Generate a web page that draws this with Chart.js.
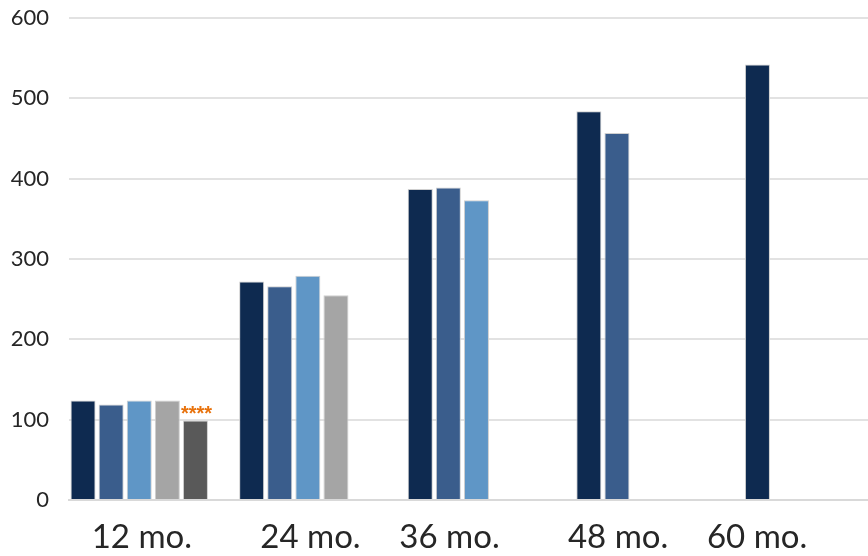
<!DOCTYPE html>
<html>
<head>
<meta charset="utf-8">
<script src="https://cdn.jsdelivr.net/npm/chart.js@4/dist/chart.umd.min.js"></script>
<style>
  html, body { margin: 0; padding: 0; overflow: hidden; background: #ffffff; }
  canvas { display: block; }
</style>
</head>
<body>
<canvas id="chart" width="912" height="556"></canvas>
<script>
// Follow-up time points
const categories = ['12 mo.', '24 mo.', '36 mo.', '48 mo.', '60 mo.'];

// One array per cohort; null where the cohort has no measurement yet
const cohort1 = [124, 272, 387, 484, 542];
const cohort2 = [119, 266, 389, 457, null];
const cohort3 = [124, 279, 373, null, null];
const cohort4 = [124, 255, null, null, null];
const cohort5 = [99, null, null, null, null];
const cohort6 = [null, null, null, null, null];

// Significance flags shown above the fifth cohort
const cohort5Flags = ['****', '', '', '', ''];

// Value axis ticks
const yTicks = [0, 100, 200, 300, 400, 500, 600];

const colors = ['#0e2a50', '#3a5d8c', '#5f96c6', '#a5a5a5', '#595959', '#8fb4dc'];
const series = [cohort1, cohort2, cohort3, cohort4, cohort5, cohort6];

// Spacing used to nudge the category captions
const padLeft = ['       ', '       ', '', '', ''];
const padRight = ['', '', '', '', '       '];

const flagPlugin = {
  id: 'flagPlugin',
  afterDatasetsDraw(chart) {
    const meta = chart.getDatasetMeta(4);
    const ctx = chart.ctx;
    meta.data.forEach((bar, i) => {
      const text = cohort5Flags[i];
      if (!text) return;
      ctx.save();
      ctx.fillStyle = '#e8720c';
      ctx.font = 'bold 20px "Liberation Sans"';
      ctx.textAlign = 'center';
      ctx.textBaseline = 'alphabetic';
      ctx.fillText(text, bar.x + 1, bar.y);
      ctx.restore();
    });
  }
};

new Chart(document.getElementById('chart'), {
  type: 'bar',
  data: {
    labels: categories,
    datasets: series.map((data, i) => ({
      label: 'Cohort ' + (i + 1),
      data: data,
      backgroundColor: colors[i],
      borderColor: '#cfcfcf',
      borderWidth: 1
    }))
  },
  options: {
    responsive: false,
    animation: false,
    devicePixelRatio: 1,
    layout: { padding: { top: 18, right: 0, left: 0, bottom: 0 } },
    datasets: { bar: { categoryPercentage: 1, barPercentage: 0.89 } },
    plugins: {
      legend: { display: false },
      tooltip: { enabled: false }
    },
    scales: {
      x: {
        grid: { display: false, drawTicks: false },
        border: { display: true, color: '#d9d9d9', width: 2 },
        ticks: {
          padding: 18,
          labelOffset: -41,
          maxRotation: 0,
          minRotation: 0,
          autoSkip: false,
          color: '#262626',
          font: { family: 'Lato', size: 33 },
          callback: (v, i) => padLeft[i] + categories[i] + padRight[i]
        },
        afterFit(scale) {
          scale.height = 56;
          scale.paddingLeft = 0;
          scale.paddingRight = 0;
        }
      },
      y: {
        min: 0,
        max: 600,
        afterBuildTicks(scale) { scale.ticks = yTicks.map(v => ({ value: v })); },
        grid: { color: '#e2e2e2', lineWidth: 2, drawTicks: false },
        border: { display: false },
        ticks: {
          padding: 20,
          color: '#262626',
          font: { family: 'Lato', size: 22 }
        },
        afterFit(scale) {
          scale.width = 69;
          scale.paddingTop = 0;
          scale.paddingBottom = 0;
        }
      }
    }
  },
  plugins: [flagPlugin]
});
</script>
</body>
</html>
